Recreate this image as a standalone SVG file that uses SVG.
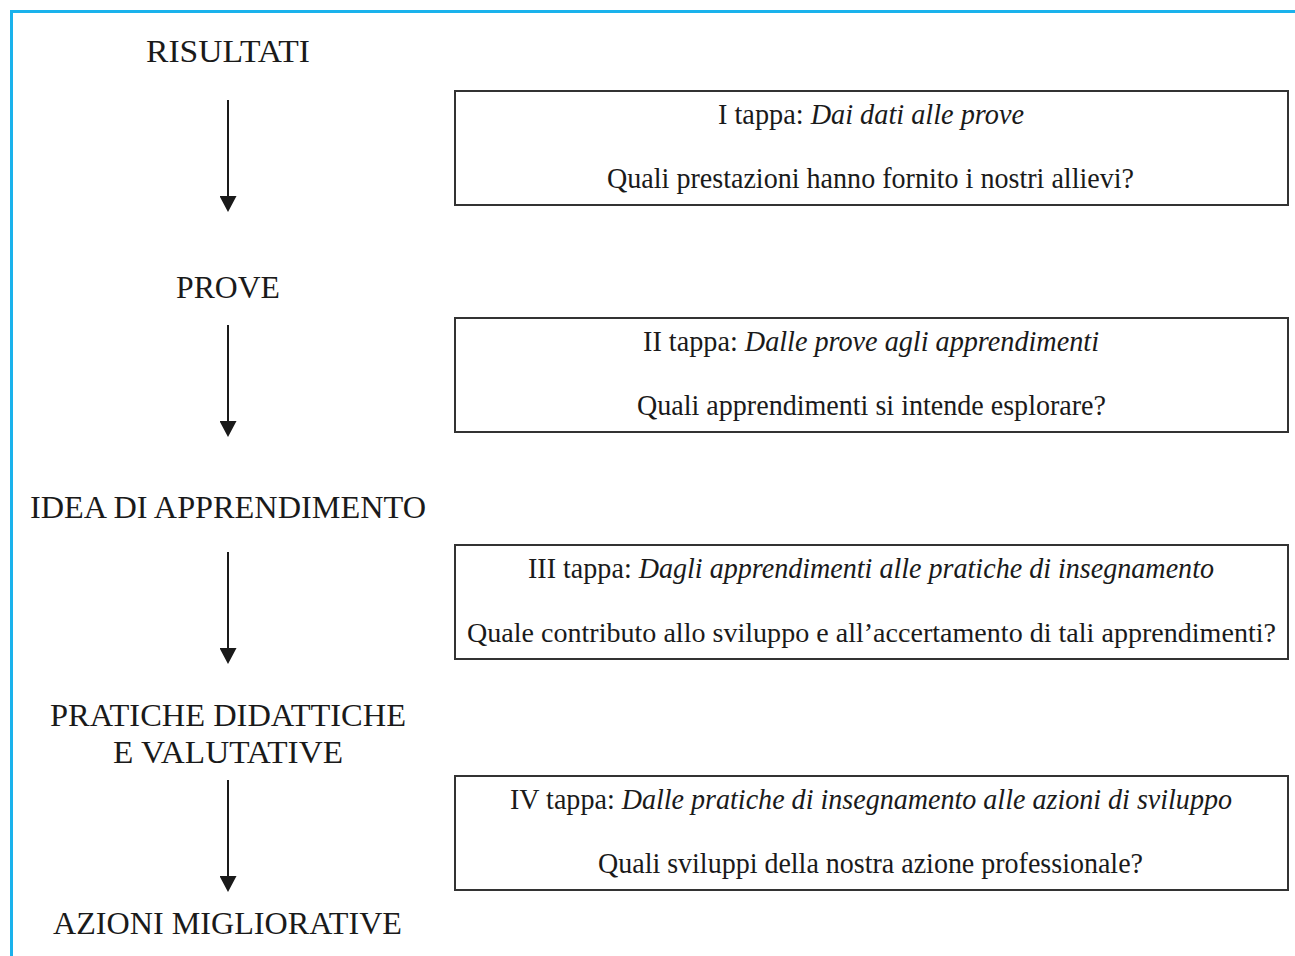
<svg xmlns="http://www.w3.org/2000/svg" width="1295" height="956" viewBox="0 0 1295 956">
<style>
.frame{stroke:#1ab2ec;stroke-width:3;fill:none}
.box{fill:none;stroke:#333;stroke-width:2}
.lbl{font-family:"Liberation Serif","Times New Roman",serif;font-size:31px;fill:#1a1a1a}
.bt{font-family:"Liberation Serif","Times New Roman",serif;font-size:29px;fill:#1a1a1a}
.it{font-style:italic}
.conn line{stroke:#1a1a1a;stroke-width:2}
</style>
<defs>
<marker id="ah" markerWidth="17" markerHeight="17" viewBox="0 0 16 17" refX="0" refY="8.5" orient="auto" markerUnits="userSpaceOnUse">
<polygon points="0,0 16,8.5 0,17" fill="#1a1a1a"/>
</marker>
</defs>
<rect width="1295" height="956" fill="#fff"/>
<path class="frame" d="M11.5,956 V11.5 H1295"/>

<g id="n-risultati"><text class="lbl" x="146" y="62" textLength="164" lengthAdjust="spacingAndGlyphs">RISULTATI</text></g>
<g id="n-prove"><text class="lbl" x="176" y="298" textLength="104" lengthAdjust="spacingAndGlyphs">PROVE</text></g>
<g id="n-idea"><text class="lbl" x="30" y="518" textLength="396" lengthAdjust="spacingAndGlyphs">IDEA DI APPRENDIMENTO</text></g>
<g id="n-pratiche">
<text class="lbl" x="50" y="726" textLength="356" lengthAdjust="spacingAndGlyphs">PRATICHE DIDATTICHE</text>
<text class="lbl" x="113" y="763" textLength="230" lengthAdjust="spacingAndGlyphs">E VALUTATIVE</text>
</g>
<g id="n-azioni"><text class="lbl" x="53" y="934" textLength="349" lengthAdjust="spacingAndGlyphs">AZIONI MIGLIORATIVE</text></g>

<g id="connectors" class="conn">
<line x1="228" y1="100" x2="228" y2="196" marker-end="url(#ah)"/>
<line x1="228" y1="325" x2="228" y2="421" marker-end="url(#ah)"/>
<line x1="228" y1="552" x2="228" y2="648" marker-end="url(#ah)"/>
<line x1="228" y1="780" x2="228" y2="876" marker-end="url(#ah)"/>
</g>

<g id="tappa1">
<rect class="box" x="455" y="91" width="833" height="114"/>
<text class="bt" x="718" y="124" textLength="306" lengthAdjust="spacingAndGlyphs">I tappa: <tspan class="it">Dai dati alle prove</tspan></text>
<text class="bt" x="607" y="188" textLength="527" lengthAdjust="spacingAndGlyphs">Quali prestazioni hanno fornito i nostri allievi?</text>
</g>
<g id="tappa2">
<rect class="box" x="455" y="318" width="833" height="114"/>
<text class="bt" x="643" y="351" textLength="456" lengthAdjust="spacingAndGlyphs">II tappa: <tspan class="it">Dalle prove agli apprendimenti</tspan></text>
<text class="bt" x="637" y="415" textLength="469" lengthAdjust="spacingAndGlyphs">Quali apprendimenti si intende esplorare?</text>
</g>
<g id="tappa3">
<rect class="box" x="455" y="545" width="833" height="114"/>
<text class="bt" x="528" y="578" textLength="686" lengthAdjust="spacingAndGlyphs">III tappa: <tspan class="it">Dagli apprendimenti alle pratiche di insegnamento</tspan></text>
<text class="bt" x="467" y="642" style="font-size:28px" textLength="809" lengthAdjust="spacingAndGlyphs">Quale contributo allo sviluppo e all’accertamento di tali apprendimenti?</text>
</g>
<g id="tappa4">
<rect class="box" x="455" y="776" width="833" height="114"/>
<text class="bt" x="510" y="809" textLength="722" lengthAdjust="spacingAndGlyphs">IV tappa: <tspan class="it">Dalle pratiche di insegnamento alle azioni di sviluppo</tspan></text>
<text class="bt" x="598" y="873" textLength="545" lengthAdjust="spacingAndGlyphs">Quali sviluppi della nostra azione professionale?</text>
</g>
</svg>
